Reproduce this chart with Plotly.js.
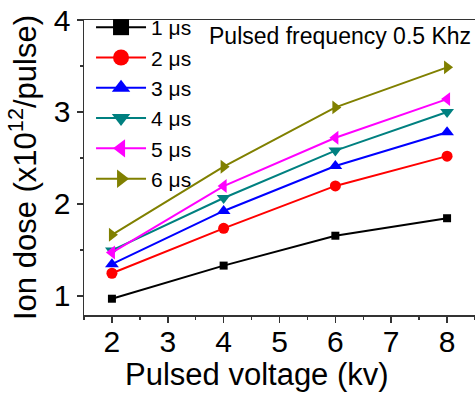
<!DOCTYPE html>
<html>
<head>
<meta charset="utf-8">
<script src="https://cdn.plot.ly/plotly-3.0.1.min.js"></script>
<style>html,body{margin:0;padding:0;background:#fff;}#chart{width:475px;height:394px;}</style>
</head>
<body>
<div id="chart"></div>
<script>
// Data
const voltage = [2, 4, 6, 8];
const seriesNames = ['1 μs', '2 μs', '3 μs', '4 μs', '5 μs', '6 μs'];
const dose1us = [0.97, 1.33, 1.655, 1.845];
const dose2us = [1.247, 1.735, 2.196, 2.52];
const dose3us = [1.345, 1.924, 2.413, 2.78];
const dose4us = [1.495, 2.065, 2.58, 3.00];
const dose5us = [1.472, 2.195, 2.72, 3.14];
const dose6us = [1.665, 2.405, 3.05, 3.485];
const annotationText = 'Pulsed frequency 0.5 Khz';
const xTitle = 'Pulsed voltage (kv)';
const yTitle = 'Ion dose (x10<sup>12</sup>/pulse)';

const seriesValues = [dose1us, dose2us, dose3us, dose4us, dose5us, dose6us];
const colors = ['#000000', '#ff0000', '#0000ff', '#008080', '#ff00ff', '#808000'];
const symbols = ['square', 'circle', 'triangle-up', 'triangle-down', 'triangle-left', 'triangle-right'];
const plotSizes = [8, 11, 12, 12, 12, 12];

const traces = [];
seriesValues.forEach((vals, i) => {
  traces.push({
    type: 'scatter', mode: 'lines+markers',
    x: voltage, y: vals, name: seriesNames[i],
    showlegend: false, legendgroup: 'g' + i,
    line: {color: colors[i], width: 2},
    marker: {symbol: symbols[i], size: plotSizes[i], color: colors[i]}
  });
});
seriesValues.forEach((vals, i) => {
  traces.push({
    type: 'scatter', mode: 'lines+markers',
    x: [null], y: [null], name: seriesNames[i],
    showlegend: true, legendgroup: 'g' + i,
    line: {color: colors[i], width: 2},
    marker: {symbol: symbols[i], size: 16, color: colors[i]}
  });
});

const layout = {
  width: 475, height: 394,
  margin: {l: 84, r: 0, t: 20, b: 79},
  paper_bgcolor: '#ffffff', plot_bgcolor: '#ffffff',
  font: {family: 'Liberation Sans, Arial, sans-serif', color: '#000'},
  showlegend: true,
  legend: {
    x: 0.018, y: 1.044, xanchor: 'left', yanchor: 'top',
    bgcolor: 'rgba(0,0,0,0)', borderwidth: 0,
    font: {size: 21, family: 'Liberation Sans, Arial, sans-serif'},
    tracegroupgap: 0, itemwidth: 50
  },
  xaxis: {
    range: [1.5, 8.5], dtick: 1, tick0: 0,
    showgrid: false, zeroline: false,
    showline: true, linecolor: '#333', linewidth: 1.5, mirror: true,
    ticks: 'outside', ticklen: 6, tickwidth: 1.5, tickcolor: '#333',
    minor: {dtick: 0.5, ticks: 'outside', ticklen: 3, tickwidth: 1.5, tickcolor: '#333'},
    tickfont: {size: 30}, ticklabelstandoff: -7
  },
  yaxis: {
    range: [0.793, 4.0], dtick: 1, tick0: 0,
    showgrid: false, zeroline: false,
    showline: true, linecolor: '#333', linewidth: 1.5, mirror: false,
    ticks: 'outside', ticklen: 6, tickwidth: 1.5, tickcolor: '#333',
    minor: {dtick: 0.5, ticks: 'outside', ticklen: 3, tickwidth: 1.5, tickcolor: '#333'},
    tickfont: {size: 30},
    title: {text: yTitle, font: {size: 31}, standoff: 8}
  },
  annotations: [
    {xref: 'paper', yref: 'paper', x: 0.3145, y: 1.0, xanchor: 'left', yanchor: 'top',
     yshift: -1, text: annotationText, showarrow: false, font: {size: 23}},
    {xref: 'paper', yref: 'paper', x: 0.4425, y: 0, yanchor: 'top', xanchor: 'center',
     yshift: -40, text: xTitle, showarrow: false, font: {size: 31}}
  ]
};

Plotly.newPlot('chart', traces, layout, {displayModeBar: false, staticPlot: true});
</script>
</body>
</html>
